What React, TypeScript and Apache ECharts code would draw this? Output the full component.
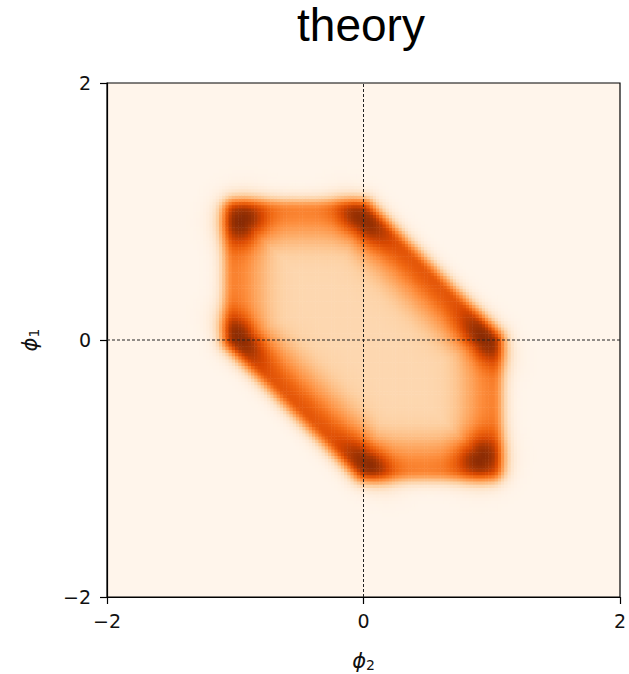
import React, { useEffect, useRef } from "react";
import * as echarts from "echarts";

// Axis range and tick spacing (both axes)
const axisMin = -2;
const axisMax = 2;
const axisStep = 2;

// Hexagonal support of the density, vertices as (phi2, phi1), clockwise
const vertexPhi2 = [-1, 0, 1, 1, 0, -1];
const vertexPhi1 = [1, 1, 0, -1, -1, 0];
// Ridge strength along each edge (edge k runs from vertex k to vertex k+1)
const edgeLevel = [0.52, 0.68, 0.52, 0.52, 0.68, 0.52];

// Density maxima near the vertices
const peakPhi2 = [-0.937, -0.014, 0.934, 0.908, 0.037, -0.95];
const peakPhi1 = [0.92, 0.92, 0.0, -0.908, -0.947, 0.026];
const peakLevel = [0.46, 0.36, 0.36, 0.46, 0.36, 0.36];
// Spread of each maximum along / across the anti-diagonal
const peakSpreadAlong = [0.13, 0.155, 0.155, 0.13, 0.155, 0.155];
const peakSpreadAcross = [0.13, 0.1, 0.1, 0.13, 0.1, 0.1];

// Plateau level inside the hexagon
const interiorLevel = 0.21;

// Dashed guide lines
const guidePhi2 = [0];
const guidePhi1 = [0];

// Matplotlib "Oranges"
const orangesPalette = [
  "#fff5eb", "#fee6ce", "#fdd0a2", "#fdae6b", "#fd8d3c",
  "#f16913", "#d94801", "#a63603", "#7f2704",
];

const CELLS = 160;
const RIM_CENTER = 0.01;
const RIM_SIGMA_OUT = 0.072;
const RIM_SIGMA_IN = 0.17;
const EDGE_BLEND = 0.12;
const FILL_INSET = 0.12;
const FILL_SOFT = 0.07;

function density(x: number, y: number): number {
  const n = vertexPhi2.length;
  let inside = true;
  let dmin = Infinity;
  let wSum = 0;
  let lSum = 0;
  for (let k = 0; k < n; k++) {
    const ax = vertexPhi2[k], ay = vertexPhi1[k];
    const bx = vertexPhi2[(k + 1) % n], by = vertexPhi1[(k + 1) % n];
    const dx = bx - ax, dy = by - ay;
    const len = Math.hypot(dx, dy);
    const ux = dx / len, uy = dy / len;
    const nx = -uy, ny = ux; // outward normal for a clockwise polygon
    const px = x - ax, py = y - ay;
    const t = Math.min(len, Math.max(0, px * ux + py * uy));
    const d = Math.hypot(px - t * ux, py - t * uy);
    if (px * nx + py * ny > 0) inside = false;
    dmin = Math.min(dmin, d);
    const w = Math.exp(-0.5 * (d / EDGE_BLEND) ** 2) + 1e-9;
    wSum += w;
    lSum += w * edgeLevel[k];
  }
  const sd = inside ? -dmin : dmin;
  const level = lSum / wSum;
  const r = sd - RIM_CENTER;
  const sig = r > 0 ? RIM_SIGMA_OUT : RIM_SIGMA_IN;
  const rim = level * Math.exp(-0.5 * (r / sig) ** 2);
  const fill = interiorLevel / (1 + Math.exp((sd + FILL_INSET) / FILL_SOFT));
  let v = fill + rim * (1 - fill);
  const c = Math.SQRT1_2;
  for (let i = 0; i < peakPhi2.length; i++) {
    const ex = x - peakPhi2[i], ey = y - peakPhi1[i];
    const a = (ex - ey) * c; // along the anti-diagonal
    const b = (ex + ey) * c;
    v += peakLevel[i] * Math.exp(-0.5 * ((a / peakSpreadAlong[i]) ** 2 + (b / peakSpreadAcross[i]) ** 2));
  }
  return Math.min(1, v);
}

function buildCells() {
  const step = (axisMax - axisMin) / CELLS;
  const centers: string[] = [];
  for (let i = 0; i < CELLS; i++) centers.push((axisMin + (i + 0.5) * step).toFixed(4));
  const data: number[][] = [];
  for (let i = 0; i < CELLS; i++) {
    const x = axisMin + (i + 0.5) * step;
    for (let j = 0; j < CELLS; j++) {
      const y = axisMin + (j + 0.5) * step;
      const v = density(x, y);
      if (v > 0.002) data.push([i, j, v]);
    }
  }
  return { centers, data };
}

const minusFmt = (v: number) => String(v).replace("-", "\u2212");

const nameRich = {
  p: { fontSize: 21, lineHeight: 22, fontFamily: "DejaVu Sans", fontStyle: "italic", color: "#111" },
  s: { fontSize: 14, lineHeight: 13, fontFamily: "DejaVu Sans", color: "#111", verticalAlign: "bottom" },
};

export default function App() {
  const ref = useRef<HTMLDivElement>(null);

  useEffect(() => {
    if (!ref.current) return;
    const chart = echarts.init(ref.current, undefined, { renderer: "svg" });
    const { centers, data } = buildCells();

    const valueAxisCommon = {
      type: "value" as const,
      min: axisMin,
      max: axisMax,
      interval: axisStep,
      splitLine: { show: false },
      axisLine: { show: true, lineStyle: { color: "#000", width: 1.2 } },
      axisTick: { show: true, inside: false, length: 7, lineStyle: { color: "#000", width: 1.2 } },
      axisLabel: {
        color: "#111",
        fontSize: 19,
        fontFamily: "DejaVu Sans",
        formatter: minusFmt,
      },
      nameLocation: "middle" as const,
      nameTextStyle: { rich: nameRich },
    };

    const hiddenCat = {
      type: "category" as const,
      data: centers,
      boundaryGap: true,
      show: false,
    };

    chart.setOption({
      animation: false,
      backgroundColor: "#ffffff",
      graphic: [
        {
          type: "text",
          x: 361,
          y: 25,
          style: {
            text: "theory",
            font: '46px "Liberation Sans", Arial, sans-serif',
            lineHeight: 40,
            fill: "#000",
            textAlign: "center",
            textVerticalAlign: "middle",
          },
        },
      ],
      grid: {
        left: 107,
        top: 83,
        width: 513,
        height: 514,
        outerBoundsMode: "none",
        containLabel: false,
        show: true,
        backgroundColor: orangesPalette[0],
        borderColor: "#000",
        borderWidth: 1.2,
      },
      xAxis: [
        { ...hiddenCat, gridIndex: 0 },
        {
          ...valueAxisCommon,
          gridIndex: 0,
          position: "bottom",
          name: "{p|\u03d5}{s|2}",
          nameGap: 53,
          axisLabel: { ...valueAxisCommon.axisLabel, margin: 14 },
        },
      ],
      yAxis: [
        { ...hiddenCat, gridIndex: 0 },
        {
          ...valueAxisCommon,
          gridIndex: 0,
          position: "left",
          name: "{p|\u03d5}{s|1}",
          nameGap: 66,
          nameRotate: 90,
          axisLabel: { ...valueAxisCommon.axisLabel, margin: 16 },
        },
      ],
      visualMap: {
        show: false,
        type: "continuous",
        min: 0,
        max: 1,
        seriesIndex: 0,
        inRange: { color: orangesPalette },
      },
      series: [
        {
          type: "heatmap",
          xAxisIndex: 0,
          yAxisIndex: 0,
          data,
          progressive: 0,
          emphasis: { disabled: true },
          silent: true,
        },
        ...guidePhi2.map((g) => ({
          type: "line",
          xAxisIndex: 1,
          yAxisIndex: 1,
          data: [[g, axisMin], [g, axisMax]],
          symbol: "none",
          silent: true,
          lineStyle: { color: "#222", width: 1, type: [3, 2] },
        })),
        ...guidePhi1.map((g) => ({
          type: "line",
          xAxisIndex: 1,
          yAxisIndex: 1,
          data: [[axisMin, g], [axisMax, g]],
          symbol: "none",
          silent: true,
          lineStyle: { color: "#222", width: 1, type: [3, 2] },
        })),
      ],
    });

    return () => chart.dispose();
  }, []);

  return (
    <div
      ref={ref}
      style={{ position: "absolute", left: 0, top: 0, width: 629, height: 674 }}
    />
  );
}
